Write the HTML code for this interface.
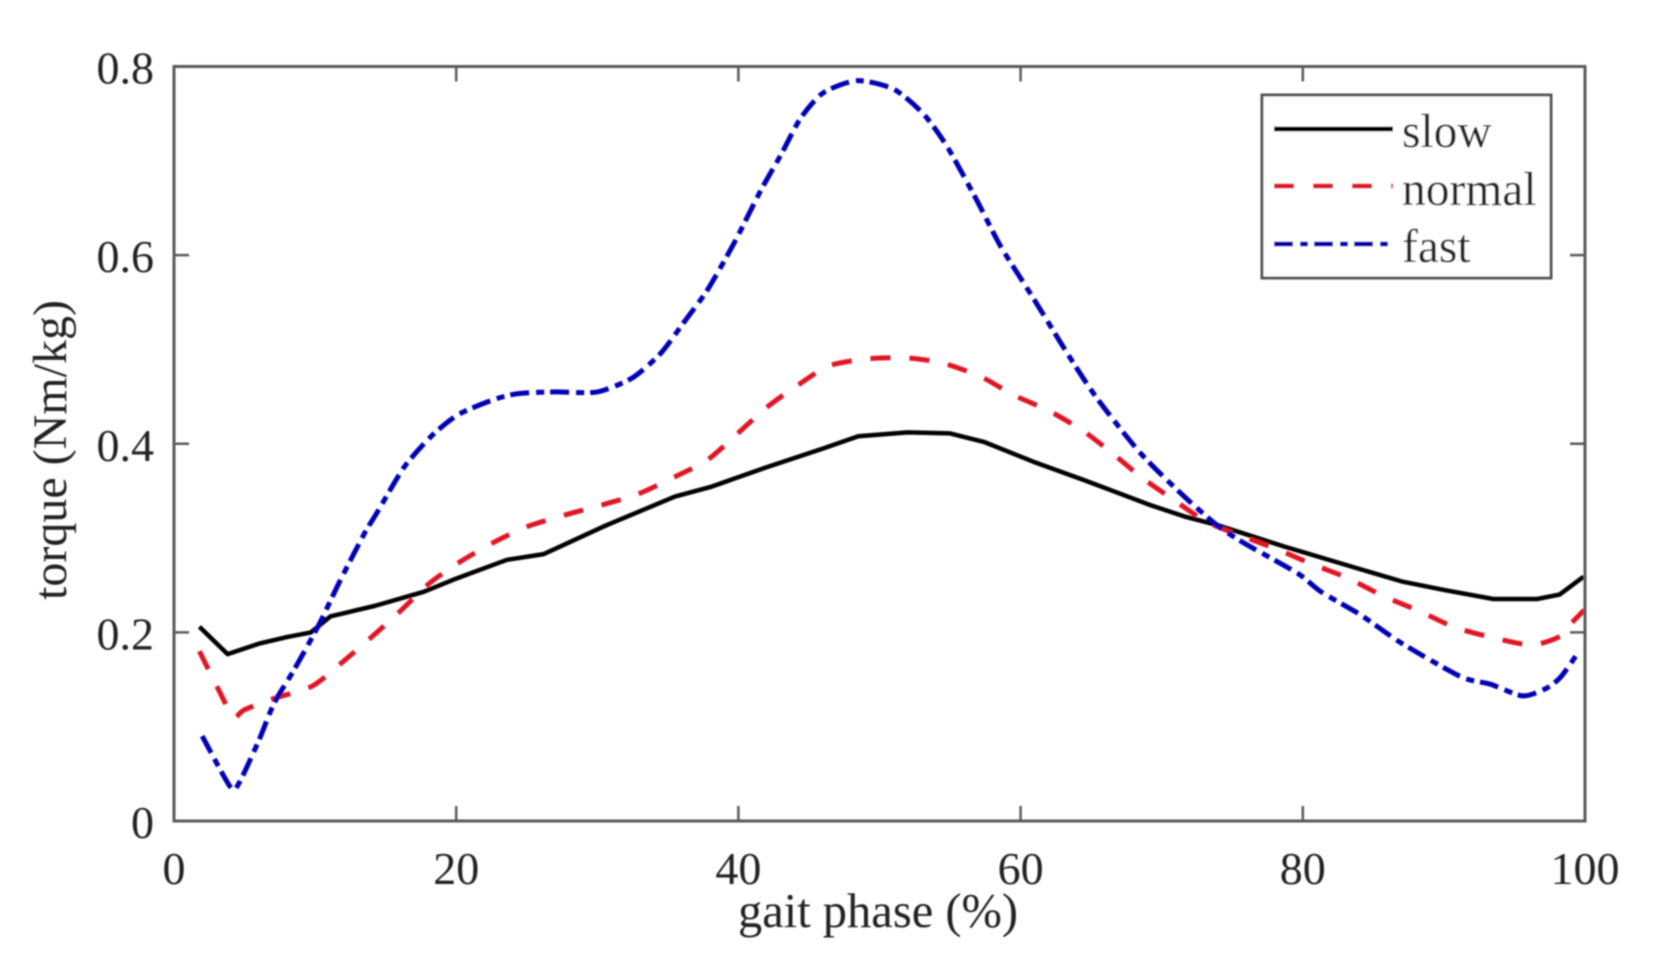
<!DOCTYPE html>
<html lang="en">
<head>
<meta charset="utf-8">
<title>Torque vs gait phase</title>
<style>
  html, body { margin: 0; padding: 0; background: #fff; }
  #chart { display: block; width: 1656px; height: 960px; }
  text { font-family: "Liberation Serif", "Times New Roman", serif; fill: #242424; }
</style>
</head>
<body>
<svg id="chart" xmlns="http://www.w3.org/2000/svg" width="1656" height="960" viewBox="0 0 1656 960">
  <defs>
    <filter id="soft" x="-5%" y="-5%" width="110%" height="110%"><feGaussianBlur stdDeviation="0.8"/></filter>
  </defs>
  <rect x="0" y="0" width="1656" height="960" fill="#ffffff"/>
  <g id="root" filter="url(#soft)">
    <g id="series"></g>
    <g id="axes"></g>
    <text x="878" y="927" font-size="48.5" text-anchor="middle">gait phase (%)</text>
    <text transform="translate(66,450) rotate(-90)" font-size="48" text-anchor="middle">torque (Nm/kg)</text>
    <g>
      <rect x="1262" y="95" width="289" height="183" fill="#ffffff" stroke="#555555" stroke-width="3"/>
      <line x1="1274" y1="129" x2="1393" y2="129" stroke="#000000" stroke-width="5"/>
      <text x="1402" y="147" font-size="47.5">slow</text>
      <line x1="1274" y1="186" x2="1393" y2="186" stroke="#e01525" stroke-width="5" stroke-dasharray="20 19"/>
      <text x="1402" y="205" font-size="47.5">normal</text>
      <line x1="1274" y1="244" x2="1393" y2="244" stroke="#0000b4" stroke-width="5" stroke-dasharray="19 7 8 6"/>
      <text x="1402" y="262" font-size="47.5">fast</text>
    </g>
  </g>
</svg>
<script>
const xTicks = [0, 20, 40, 60, 80, 100];
const yTicks = [0, 0.2, 0.4, 0.6, 0.8];
const xTickLabels = ['0', '20', '40', '60', '80', '100'];
const yTickLabels = ['0', '0.2', '0.4', '0.6', '0.8'];

const slowX = [1.8, 3.8, 6, 8, 9.7, 11.1, 14.2, 17.7, 20, 23.6, 26.2, 30.7, 35.5, 38, 42, 46, 48.5, 52, 55, 57.4, 60.9, 64.5, 69.2, 71.6, 73.9, 78.7, 83.4, 87, 90, 93.5, 96.6, 98.2, 99.9];
const slowY = [0.206, 0.177, 0.188, 0.195, 0.2, 0.217, 0.228, 0.243, 0.257, 0.277, 0.283, 0.314, 0.344, 0.354, 0.375, 0.395, 0.408, 0.412, 0.411, 0.402, 0.381, 0.3615, 0.335, 0.323, 0.314, 0.291, 0.27, 0.254, 0.245, 0.2354, 0.2354, 0.24, 0.259];

const normalX = [1.8, 3.3, 4.2, 5, 7.1, 9.8, 11.9, 14, 16, 18.1, 20.3, 22.6, 25, 27.7, 30.3, 32.9, 35.5, 38, 41.8, 44.2, 46.4, 49.1, 51.9, 54.5, 57.2, 59.5, 62, 64.4, 66.5, 68.6, 70.9, 73.2, 75.8, 78.2, 80.8, 83.2, 85.7, 88.2, 90.7, 93.3, 96.2, 98.2, 98.8, 99.95];
const normalY = [0.18, 0.135, 0.11, 0.118, 0.13, 0.143, 0.168, 0.195, 0.222, 0.252, 0.275, 0.295, 0.312, 0.3245, 0.335, 0.3467, 0.365, 0.385, 0.436, 0.462, 0.4825, 0.49, 0.491, 0.4855, 0.471, 0.4517, 0.435, 0.414, 0.39, 0.364, 0.34, 0.317, 0.3015, 0.288, 0.2715, 0.2575, 0.2386, 0.223, 0.2057, 0.195, 0.1866, 0.1955, 0.206, 0.2237];

const fastX = [2, 4, 4.6, 6, 7.1, 8.5, 10.2, 11.8, 13.5, 14.35, 16.3, 18.2, 20.1, 22.5, 24.3, 27, 30, 32.5, 34.5, 36.1, 37.8, 39.7, 41.6, 43, 44.4, 46, 48.4, 51, 53.1, 54.8, 56.9, 58.6, 61, 63.3, 65.4, 68.5, 71.6, 73.9, 75.8, 79.6, 81.3, 84.1, 87, 91.2, 93.3, 95.6, 97.3, 98.3, 99.4];
const fastY = [0.09, 0.036, 0.04, 0.085, 0.125, 0.16, 0.206, 0.2556, 0.305, 0.326, 0.375, 0.4075, 0.4305, 0.446, 0.453, 0.455, 0.455, 0.47, 0.496, 0.528, 0.563, 0.613, 0.669, 0.706, 0.745, 0.772, 0.785, 0.776, 0.75, 0.715, 0.658, 0.609, 0.552, 0.496, 0.4485, 0.39, 0.344, 0.314, 0.295, 0.263, 0.243, 0.2185, 0.1885, 0.153, 0.145, 0.1326, 0.141, 0.153, 0.176];

const NS = 'http://www.w3.org/2000/svg';
const PLOT = { left: 174, right: 1585, top: 66.5, bottom: 821 };
const sx = v => PLOT.left + (v / 100) * (PLOT.right - PLOT.left);
const sy = v => PLOT.bottom - (v / 0.8) * (PLOT.bottom - PLOT.top);

function svgEl(tag, attrs, parent) {
  const el = document.createElementNS(NS, tag);
  for (const k in attrs) el.setAttribute(k, attrs[k]);
  parent.appendChild(el);
  return el;
}

const axes = document.getElementById('axes');
const seriesGroup = document.getElementById('series');

function pathFor(xs, ys, smooth) {
  const p = xs.map((x, i) => [sx(x), sy(ys[i])]);
  let d = 'M' + p[0][0].toFixed(1) + ' ' + p[0][1].toFixed(1);
  for (let i = 0; i < p.length - 1; i++) {
    if (!smooth) {
      d += 'L' + p[i + 1][0].toFixed(1) + ' ' + p[i + 1][1].toFixed(1);
      continue;
    }
    const a = p[Math.max(i - 1, 0)], b = p[i], c = p[i + 1], e = p[Math.min(i + 2, p.length - 1)];
    const k = 0.12;
    const c1x = b[0] + (c[0] - a[0]) * k, c1y = b[1] + (c[1] - a[1]) * k;
    const c2x = c[0] - (e[0] - b[0]) * k, c2y = c[1] - (e[1] - b[1]) * k;
    d += 'C' + c1x.toFixed(1) + ' ' + c1y.toFixed(1) + ' ' + c2x.toFixed(1) + ' ' + c2y.toFixed(1) + ' ' + c[0].toFixed(1) + ' ' + c[1].toFixed(1);
  }
  return d;
}

function drawSeries(xs, ys, stroke, dash, width, name, smooth) {
  const line = svgEl('path', { d: pathFor(xs, ys, smooth), fill: 'none', stroke: stroke, 'stroke-width': width, 'stroke-linejoin': 'round', 'stroke-dasharray': dash }, seriesGroup);
  
  
}
drawSeries(slowX, slowY, '#000000', 'none', 4.5, 'line-slow', false);
drawSeries(normalX, normalY, '#e01525', '20 19', 5, 'line-normal', true);
drawSeries(fastX, fastY, '#0000b4', '19 7 8 6', 5, 'line-fast', true);

const frame = svgEl('rect', { x: PLOT.left, y: PLOT.top, width: PLOT.right - PLOT.left, height: PLOT.bottom - PLOT.top, fill: 'none', stroke: '#5a5a5a', 'stroke-width': 3 }, axes);



xTicks.forEach((t, i) => {
  const x = sx(t);
  if (t > 0 && t < 100) {
    const bottomTick = svgEl('line', { x1: x, y1: PLOT.bottom, x2: x, y2: PLOT.bottom - 15, stroke: '#5a5a5a', 'stroke-width': 2.5 }, axes);
    
    
    const topTick = svgEl('line', { x1: x, y1: PLOT.top, x2: x, y2: PLOT.top + 15, stroke: '#5a5a5a', 'stroke-width': 2.5 }, axes);
    
    
  }
  const label = svgEl('text', { x: x, y: 884, 'font-size': 46, 'text-anchor': 'middle' }, axes);
  label.textContent = xTickLabels[i];
  
  
});

yTicks.forEach((t, i) => {
  const y = sy(t);
  if (t > 0 && t < 0.8) {
    const leftTick = svgEl('line', { x1: PLOT.left, y1: y, x2: PLOT.left + 15, y2: y, stroke: '#5a5a5a', 'stroke-width': 2.5 }, axes);
    
    
    const rightTick = svgEl('line', { x1: PLOT.right, y1: y, x2: PLOT.right - 15, y2: y, stroke: '#5a5a5a', 'stroke-width': 2.5 }, axes);
    
    
  }
  const label = svgEl('text', { x: 154, y: y + 17, 'font-size': 46, 'text-anchor': 'end' }, axes);
  label.textContent = yTickLabels[i];
  
  
});
</script>
</body>
</html>
